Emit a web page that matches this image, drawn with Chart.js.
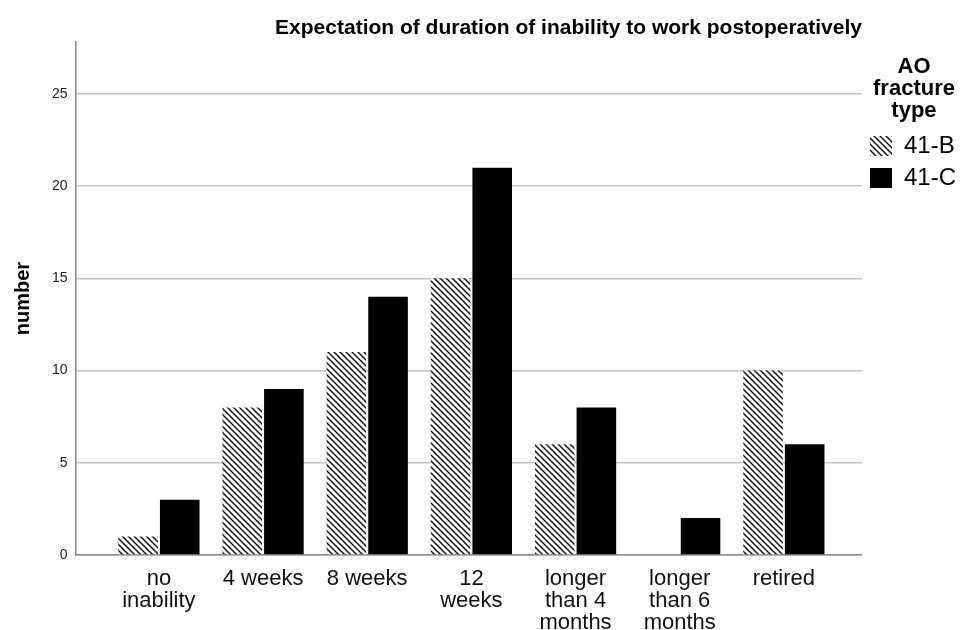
<!DOCTYPE html>
<html lang="en">
<head>
  <meta charset="UTF-8" />
  <title>Expectation of duration of inability to work postoperatively</title>
  <script src="https://cdn.jsdelivr.net/npm/chart.js"></script>
  <style>
    body {
      margin: 0;
      background: #fff;
    }
    .wrap {
      width: 970px;
      height: 630px;
    }
  </style>
</head>
<body>
  <div class="wrap"><canvas id="chart" width="970" height="630"></canvas></div>

  <script>
    const categories = [
      ['no', 'inability'], '4 weeks', '8 weeks', ['12', 'weeks'],
      ['longer', 'than 4', 'months'], ['longer', 'than 6', 'months'], 'retired'
    ];
    const series41B = [1, 8, 11, 15, 6, 0, 10];
    const series41C = [3, 9, 14, 21, 8, 2, 6];
    const yTicks = [0, 5, 10, 15, 20, 25];

    function hatch() {
      const c = document.createElement('canvas');
      c.width = 6; c.height = 6;
      const g = c.getContext('2d');
      g.fillStyle = '#fff';
      g.fillRect(0, 0, 6, 6);
      g.strokeStyle = '#111';
      g.lineWidth = 1.5;
      g.beginPath();
      g.moveTo(0, 0); g.lineTo(6, 6);
      g.moveTo(-3, 3); g.lineTo(3, 9);
      g.moveTo(3, -3); g.lineTo(9, 3);
      g.stroke();
      return g.createPattern(c, 'repeat');
    }

    const toPoints = arr => arr.map((v, i) => ({ x: i, y: v }));
    const font = "'Liberation Sans', Arial, sans-serif";

    new Chart(document.getElementById('chart'), {
      type: 'bar',
      data: {
        datasets: [
          { label: '41-B', data: toPoints(series41B), backgroundColor: hatch() },
          { label: '41-C', data: toPoints(series41C), backgroundColor: '#000' }
        ]
      },
      options: {
        responsive: false,
        animation: false,
        categoryPercentage: 0.8,
        barPercentage: 0.95,
        layout: { padding: { left: 11, right: 4, top: 8, bottom: 0 } },
        scales: {
          x: {
            type: 'linear',
            offset: false,
            min: -0.8,
            max: 6.75,
            grid: { display: false },
            border: { color: '#888', width: 1.5 },
            afterBuildTicks: s => { s.ticks = s.ticks.filter(t => Number.isInteger(t.value)); },
            afterFit: s => { s.height = 75; },
            ticks: {
              stepSize: 1,
              autoSkip: false,
              maxRotation: 0,
              padding: 5,
              color: '#111',
              font: { family: font, size: 22, lineHeight: 1.0 },
              callback: v => categories[v]
            }
          },
          y: {
            min: 0,
            max: 27.8,
            afterBuildTicks: s => { s.ticks = yTicks.map(v => ({ value: v })); },
            grid: { color: '#c4c4c4', lineWidth: 1.5, drawTicks: false },
            border: { color: '#888', width: 1.5 },
            ticks: {
              padding: 8,
              color: '#222',
              font: { family: font, size: 14 }
            },
            title: {
              display: true,
              text: 'number',
              color: '#000',
              padding: { top: 0, bottom: 9 },
              font: { family: font, size: 20, weight: 'bold' }
            }
          }
        },
        plugins: {
          tooltip: { enabled: false },
          title: {
            display: true,
            text: 'Expectation of duration of inability to work postoperatively',
            align: 'end',
            fullSize: false,
            color: '#000',
            padding: { top: 8, bottom: 1 },
            font: { family: font, size: 21, weight: 'bold' }
          },
          legend: {
            position: 'right',
            align: 'start',
            title: {
              display: true,
              text: ['AO', 'fracture', 'type'],
              color: '#000',
              padding: { top: 48, bottom: 48 },
              font: { family: font, size: 22, weight: 'bold', lineHeight: 1.0 }
            },
            labels: {
              boxWidth: 22,
              boxHeight: 20,
              padding: 8,
              color: '#000',
              font: { family: font, size: 24, lineHeight: 1.0 }
            }
          }
        }
      }
    });
  </script>
</body>
</html>
